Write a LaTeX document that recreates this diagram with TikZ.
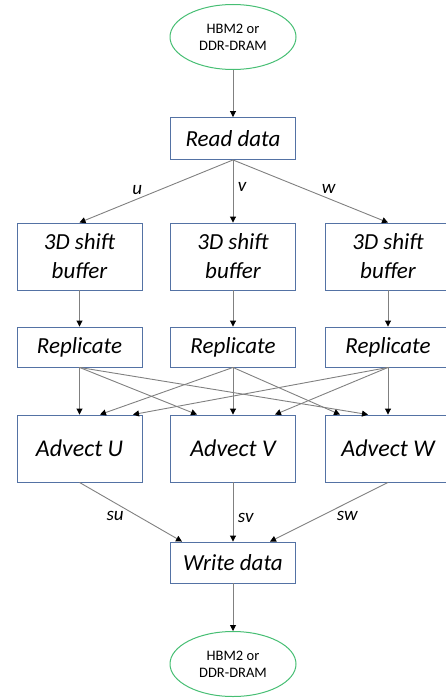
\documentclass[tikz,border=0pt]{standalone}
\usepackage{fontspec}
\setmainfont{Carlito}
\usepackage{xcolor}
\usepackage{tikz}
\usetikzlibrary{arrows.meta}
\usetikzlibrary{calc}
\usetikzlibrary{shapes.geometric}

\definecolor{boxblue}{RGB}{84,114,164}
\definecolor{memgreen}{RGB}{70,190,115}
\definecolor{linegray}{RGB}{128,128,128}

\begin{document}
\begin{tikzpicture}[
    x=1pt, y=-1pt,
    block/.style={draw=boxblue, line width=0.9pt, minimum width=125pt,
      minimum height=42pt, inner sep=0pt, align=center,
      font=\fontsize{23}{29}\selectfont\itshape},
    tall/.style={block, minimum height=67pt},
    mem/.style={ellipse, draw=memgreen, line width=1pt, minimum width=126pt,
      minimum height=65pt, inner sep=0pt, align=center,
      font=\fontsize{14.5}{17}\selectfont},
    flow/.style={draw=linegray, line width=0.9pt,
      -{Triangle[black,length=6pt,width=6pt]}},
    lbl/.style={font=\fontsize{19}{19}\selectfont\itshape, inner sep=1.5pt}
  ]

    \useasboundingbox (0,0) rectangle (445,698);

    % memory in / read
    \node [mem] (memin) at (233,37) {HBM2 or\\DDR-DRAM};
    \node [block] (read) at (233,138.5) {Read data};

    % shift buffers
    \node [tall] (bufu) at (79.5,256.5) {3D shift\\buffer};
    \node [tall] (bufv) at (233,256.5) {3D shift\\buffer};
    \node [tall] (bufw) at (388,256.5) {3D shift\\buffer};

    % replicate
    \node [block, minimum height=40pt] (repu) at (79.5,347) {Replicate};
    \node [block, minimum height=40pt] (repv) at (233,347) {Replicate};
    \node [block, minimum height=40pt] (repw) at (388,347) {Replicate};

    % advection
    \node [tall, font=\fontsize{24}{29}\selectfont\itshape] (advu) at (79.5,448.5) {Advect U};
    \node [tall, font=\fontsize{24}{29}\selectfont\itshape] (advv) at (233,448.5) {Advect V};
    \node [tall, font=\fontsize{24}{29}\selectfont\itshape] (advw) at (388,448.5) {Advect W};

    % write / memory out
    \node [block, minimum height=41pt] (write) at (233,562.5) {Write data};
    \node [mem] (memout) at (233,664) {HBM2 or\\DDR-DRAM};

    \draw [flow] (memin) -- (read);
    \draw [flow] (read.south) -- node [lbl, pos=0.58, above left] {u} (bufu.north);
    \draw [flow] (read.south) -- node [lbl, pos=0.43, right=3pt] {v} (bufv.north);
    \draw [flow] (read.south) -- node [lbl, pos=0.56, above right] {w} (bufw.north);

    \draw [flow] (bufu) -- (repu);
    \draw [flow] (bufv) -- (repv);
    \draw [flow] (bufw) -- (repw);

    \draw [flow] (repu.south) -- (advu.north);
    \draw [flow] (repu.south) -- ($(advv.north)+(-36,0)$);
    \draw [flow] (repu.south) -- ($(advw.north)+(-20,0)$);
    \draw [flow] (repv.south) -- ($(advu.north)+(20.5,0)$);
    \draw [flow] (repv.south) -- (advv.north);
    \draw [flow] (repv.south) -- ($(advw.north)+(-48,0)$);
    \draw [flow] (repw.south) -- ($(advu.north)+(53.5,0)$);
    \draw [flow] (repw.south) -- ($(advv.north)+(42,0)$);
    \draw [flow] (repw.south) -- (advw.north);

    \draw [flow] (advu.south) -- node [lbl, pos=0.45, below left] {su} ($(write.north)+(-51,0)$);
    \draw [flow] (advv.south) -- node [lbl, pos=0.6, right=3pt] {sv} (write.north);
    \draw [flow] (advw.south) -- node [lbl, pos=0.45, below right] {sw} ($(write.north)+(37,0)$);

    \draw [flow] (write) -- (memout);

  \end{tikzpicture}
\end{document}
